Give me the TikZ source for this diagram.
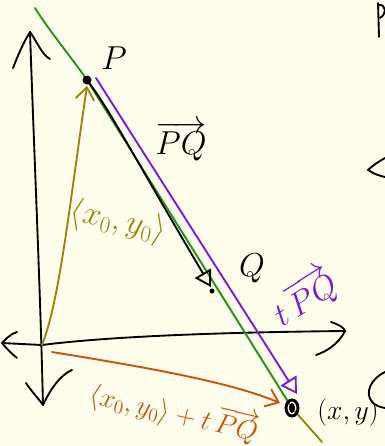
\documentclass[tikz,border=0pt]{standalone}
\usetikzlibrary{arrows.meta}
\definecolor{bg}{RGB}{255,253,236}
\definecolor{grn}{RGB}{30,150,20}
\definecolor{pur}{RGB}{130,20,220}
\definecolor{olv}{RGB}{165,125,10}
\definecolor{org}{RGB}{205,80,10}
\tikzset{
  pen/.style={line width=1.4pt, line cap=round, line join=round},
  lbl/.style={inner sep=0pt, font=\fontsize{24}{26}\selectfont},
  slbl/.style={inner sep=0pt, font=\fontsize{20}{22}\selectfont},
  barb/.style={-{Straight Barb[length=9pt,width=14pt,line width=1.4pt]}},
  tri/.style={-{Triangle[open,length=12pt,width=14pt,line width=1.4pt]}},
}
\begin{document}
\begin{tikzpicture}[x=0.75pt,y=-0.75pt]
\fill[bg] (0,0) rectangle (385,446);
\useasboundingbox (0,0) rectangle (385,446);
% points
\coordinate (O) at (42,345);
\coordinate (P) at (87,80);
\coordinate (Q) at (212,291);
\coordinate (X) at (292,408);
\coordinate (Ytop) at (30,32);
\coordinate (Ybot) at (43,405);
\coordinate (Xl) at (2,343);
\coordinate (Xr) at (345,331);
\coordinate (Gtop) at (35,8);
\coordinate (Gbot) at (322,442);
% axes
\draw[pen] (Ytop) .. controls (34,150) and (40,280) .. (Ybot);
\draw[pen] (13,68) .. controls (20,50) and (25,40) .. (Ytop) .. controls (36,40) and (42,55) .. (50,59);
\draw[pen] (26,383) .. controls (32,392) and (38,398) .. (Ybot) .. controls (50,390) and (60,375) .. (72,370);
\draw[pen] (Xl) -- (O) .. controls (120,335) and (250,332) .. (Xr);
\draw[pen] (17,332) .. controls (10,334) and (5,340) .. (Xl) .. controls (6,348) and (12,354) .. (17,358);
\draw[pen] (331,322) .. controls (340,325) and (344,328) .. (Xr) .. controls (338,345) and (325,352) .. (316,355);
% green line
\draw[grn, pen] (Gtop) .. controls (50,32) and (72,58) .. (P) -- (X);
\draw[olv, pen] (X) -- (Gbot);
% black vector P->Q
\draw[pen, tri] (P) .. controls (110,110) and (130,150) .. ([shift={(-1,-4)}]Q);
\fill (P) circle (4.5);
\fill (Q) circle (2.5);
% purple vector
\draw[pur, pen, tri] (96,78) -- (297,394);
% olive vector O->P
\draw[olv, pen, barb] (O) .. controls (60,300) and (70,200) .. ([shift={(0,6)}]P);
% orange vector O->X
\draw[org, pen, barb] (52,352) .. controls (150,368) and (230,382) .. ([shift={(-12,-5)}]X);
% (x,y) point
\draw[line width=2.2pt] (X) ellipse (6 and 8);
\fill (X) ellipse (3 and 5);
% labels
\node[lbl] (lP) at (114,58) {$P$};
\node[lbl] (lPQ) at (181,141) {$\overrightarrow{PQ}$};
\node[lbl] (lQ) at (252,268) {$Q$};
\node[lbl, text=olv, rotate=-12] (lO) at (118,222) {$\langle x_0,y_0\rangle$};
\node[lbl, text=pur, rotate=32] (lt) at (304,298) {$t\,\overrightarrow{PQ}$};
\node[slbl, text=org, rotate=-13] (lsum) at (174,412) {$\langle x_0,y_0\rangle + t\,\overrightarrow{PQ}$};
\node[slbl] (lxy) at (348,413) {$(x,y)$};
% cut-off strokes at the right edge
\draw[pen] (378,3) -- (379,37);
\draw[pen] (379,5) .. controls (386,4) and (387,14) .. (380,18);
\draw[pen] (385,158) .. controls (378,162) and (372,166) .. (368,170) .. controls (374,174) and (380,176) .. (385,177);
\draw[pen] (385,372) .. controls (372,378) and (364,392) .. (372,402) .. controls (376,406) and (380,407) .. (385,408);
\end{tikzpicture}
\end{document}
